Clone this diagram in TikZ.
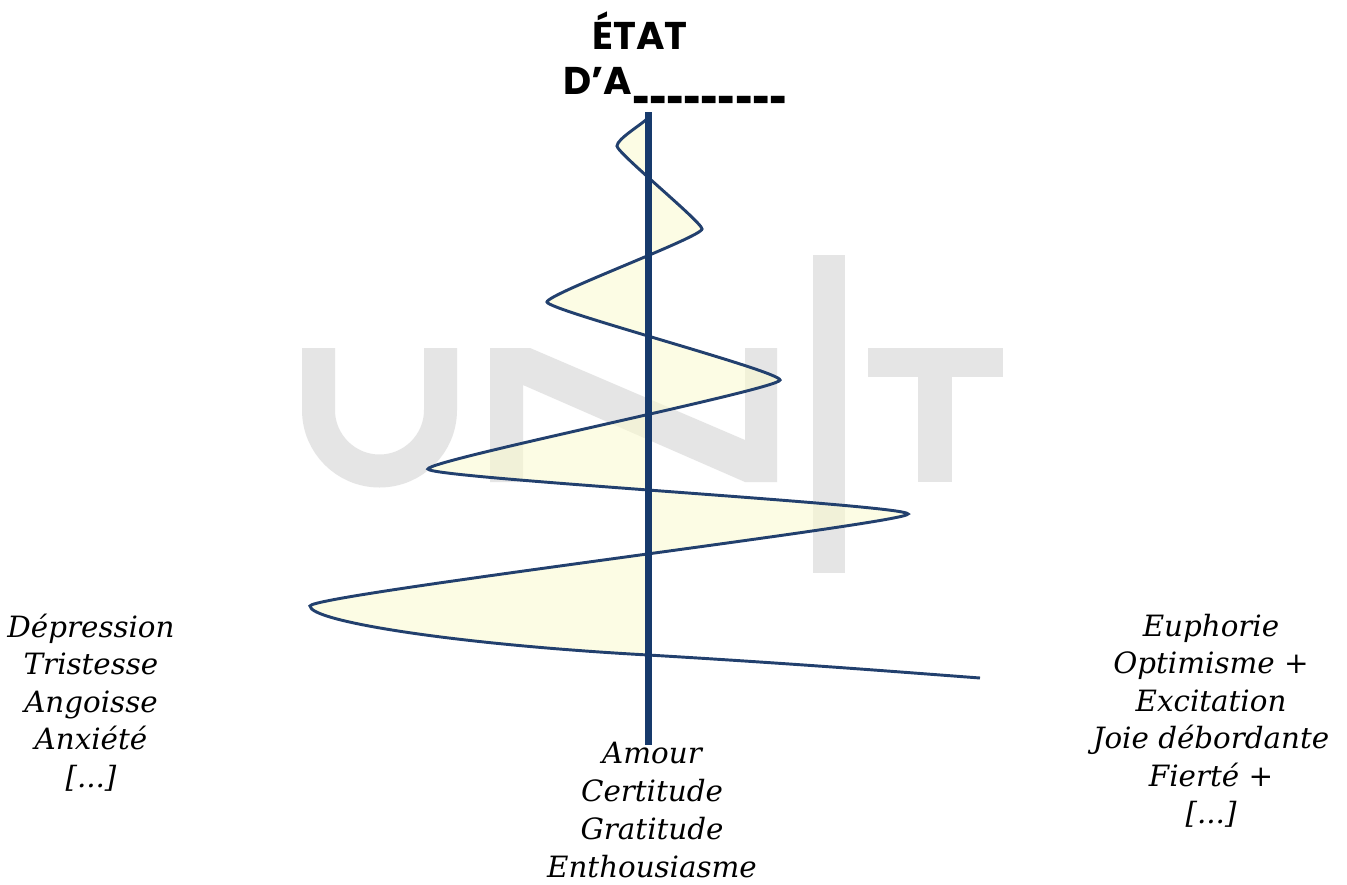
\documentclass[tikz,border=0pt]{standalone}
\usepackage{fontspec}
\setmainfont{DejaVu Serif}
\newfontfamily\titlefont{Poppins}
\newfontfamily\bodyfont{DejaVu Serif}
\definecolor{navy}{HTML}{173A6C}
\definecolor{curvec}{HTML}{22406E}
\definecolor{wmgray}{HTML}{E5E5E5}
\definecolor{fillc}{HTML}{FBFBCF}
\newcommand\spiralcurve{(648,118) .. controls (641,125) and (617,139) .. (617,146)
  .. controls (617,153) and (702,222) .. (702,229)
  .. controls (702,237) and (547,294) .. (547,302)
  .. controls (547,310) and (780,371) .. (780,380)
  .. controls (780,389) and (428,460) .. (428,469)
  .. controls (428,478) and (908,505) .. (908,514)
  .. controls (908,523) and (310,595) .. (310,606)
  .. controls (310,621) and (450,644) .. (648,655)}
\begin{document}
\begin{tikzpicture}[x=0.75pt,y=-0.75pt,
  wm/.style={fill=wmgray,draw=none},
  lbl/.style={font=\bodyfont\itshape\fontsize{22}{26}\selectfont,anchor=base,inner sep=0pt},
  ttl/.style={font=\titlefont\bfseries\fontsize{29}{34}\selectfont,anchor=base west,inner sep=0pt}]
\useasboundingbox (0,0) rectangle (1347,885);
\fill[white] (0,0) rectangle (1347,885);
% watermark
\draw[wmgray,line width=24.75pt] (318.5,348) -- (318.5,410) arc[start angle=180,end angle=0,radius=61] -- (440.5,348);
\fill[wm] (490,482) -- (490,348) -- (530,348) -- (745,440) -- (745,348) -- (777,348) -- (777,482) -- (745,482) -- (523,385) -- (523,482) -- cycle;
\fill[wm] (813,255) rectangle (845,573);
\fill[wm] (868,348) rectangle (1003,377);
\fill[wm] (918,348) rectangle (952,482);
% spiral
\fill[fillc,fill opacity=.55] \spiralcurve -- cycle;
\coordinate (sEnd) at (980,678);
\draw[curvec,line width=2.2pt] \spiralcurve .. controls (800,664) and (900,672) .. (sEnd);
\coordinate (axtop) at (648,112);
\coordinate (axbot) at (648,745);
\draw[navy,line width=5.25pt] (axtop) -- (axbot);
% title
\node[ttl] (t1) at (592,50) {ÉTAT};
\node[ttl] (t2) at (563,94) {D’A\scalebox{0.57}[1.15]{\_\_\_\_\_\_\_\_\_}};
% left
\node[lbl] (l1) at (91,637) {Dépression};
\node[lbl] (l2) at (91,674.5) {Tristesse};
\node[lbl] (l3) at (91,712) {Angoisse};
\node[lbl] (l4) at (91,749.5) {Anxiété};
\node[lbl] (l5) at (91,787) {[...]};
% middle
\node[lbl] (m1) at (652,763) {Amour};
\node[lbl] (m2) at (652,801) {Certitude};
\node[lbl] (m3) at (652,839) {Gratitude};
\node[lbl] (m4) at (652,877) {Enthousiasme};
% right
\node[lbl] (r1) at (1211,636) {Euphorie};
\node[lbl] (r2) at (1211,673.5) {Optimisme +};
\node[lbl] (r3) at (1211,711) {Excitation};
\node[lbl] (r4) at (1211,748.5) {Joie débordante};
\node[lbl] (r5) at (1211,786) {Fierté +};
\node[lbl] (r6) at (1211,823.5) {[...]};
\end{tikzpicture}
\end{document}
